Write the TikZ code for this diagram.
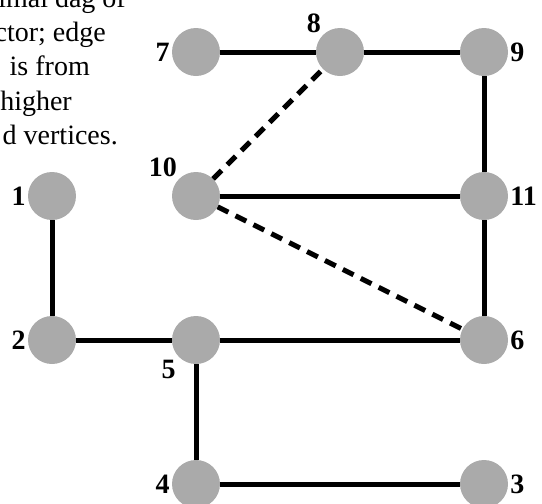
\documentclass[tikz,border=0pt]{standalone}
\usepackage{fontspec}
\setmainfont{Liberation Serif}
\usetikzlibrary{positioning}

\definecolor{vertexgray}{RGB}{170,170,170}

\begin{document}
\begin{tikzpicture}[
    x=1pt, y=-1pt,
    vertex/.style={circle, fill=vertexgray, minimum size=48pt, inner sep=0pt},
    vnum/.style={font=\fontsize{28}{32}\selectfont\bfseries, inner sep=1pt},
    edge/.style={line width=5pt},
    dashededge/.style={line width=5pt, dash pattern=on 12pt off 8pt},
    caption/.style={font=\fontsize{28}{34}\selectfont, inner sep=0pt, anchor=base east},
    label distance=1pt,
]

\useasboundingbox (0,0) rectangle (542,504);

% Caption fragment (cut by the page edge)
\node[caption] (c1) at (126,7)   {imal dag of};
\node[caption] (c2) at (106,41)  {ctor; edge};
\node[caption] (c3) at (90,75)   {is from};
\node[caption] (c4) at (72,110)  {higher};
\node[caption] (c5) at (118,144) {d vertices.};

% Vertices
\node[vertex, label={[vnum]left:7}]         (v7)  at (196,52)  {};
\node[vertex, label={[vnum]above left:8}]   (v8)  at (340,52)  {};
\node[vertex, label={[vnum]right:9}]        (v9)  at (484,52)  {};
\node[vertex, label={[vnum]left:1}]         (v1)  at (52,196)  {};
\node[vertex, label={[vnum]above left:10}]  (v10) at (196,196) {};
\node[vertex, label={[vnum]right:11}]       (v11) at (484,196) {};
\node[vertex, label={[vnum]left:2}]         (v2)  at (52,340)  {};
\node[vertex, label={[vnum,label distance=3pt]below left:5}] (v5) at (196,340) {};
\node[vertex, label={[vnum]right:6}]        (v6)  at (484,340) {};
\node[vertex, label={[vnum]left:4}]         (v4)  at (196,484) {};
\node[vertex, label={[vnum]right:3}]        (v3)  at (484,484) {};

% Solid edges
\foreach \a/\b in {v7/v8, v8/v9, v9/v11, v10/v11, v11/v6, v1/v2, v2/v5, v5/v6, v5/v4, v4/v3}
    \draw[edge] (\a) -- (\b);

% Dashed edges
\draw[dashededge] (v10) -- (v8);
\draw[dashededge] (v10) -- (v6);

\end{tikzpicture}
\end{document}
